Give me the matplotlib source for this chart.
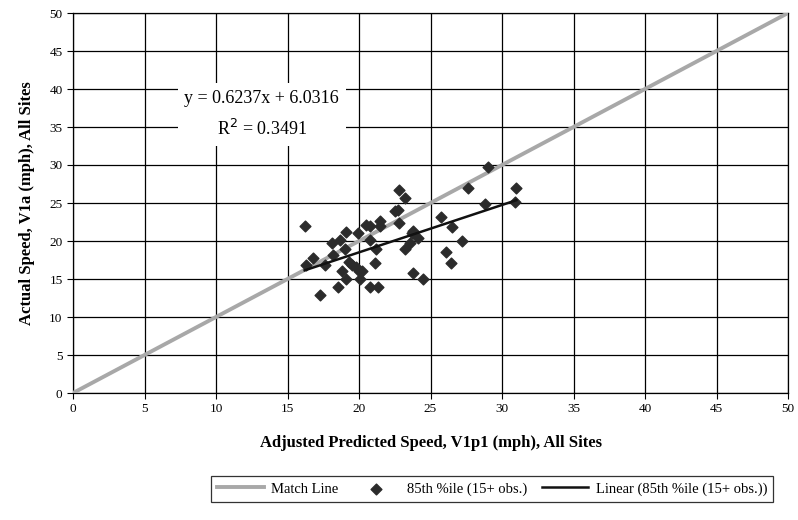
import numpy as np
import matplotlib.pyplot as plt

plt.rcParams['font.family'] = ['Liberation Serif', 'DejaVu Serif']

#85th percentile speeds (predicted, actual)
predSpeed = [16.2, 17.3, 16.8, 16.3, 17.6, 18.1, 18.7, 19.1, 19.0, 18.2,
             18.5, 18.8, 19.1, 19.3, 19.5, 19.8, 20.0, 20.2, 20.1, 19.9,
             20.5, 20.8, 20.8, 21.2, 21.1, 20.8, 21.3, 21.5, 21.5, 22.5,
             22.7, 22.8, 23.2, 22.8, 23.8, 23.7, 24.1, 23.6, 23.2, 23.8,
             24.5, 25.7, 26.5, 27.2, 26.1, 26.4, 27.6, 28.8, 29.0, 30.9, 31.0]
actualSpeed = [22.0, 12.9, 17.8, 16.8, 16.9, 19.7, 20.1, 21.2, 19.0, 18.1,
               14.0, 16.0, 15.0, 17.3, 16.9, 16.6, 16.0, 16.1, 15.0, 21.0,
               22.1, 22.0, 20.1, 19.0, 17.1, 13.9, 14.0, 22.6, 22.0, 23.9,
               24.1, 26.7, 25.6, 22.4, 21.3, 21.0, 20.4, 19.8, 19.0, 15.8,
               15.0, 23.1, 21.8, 20.0, 18.6, 17.1, 27.0, 24.9, 29.7, 25.1, 27.0]

#trendline coefficients as printed on the chart
slope = 0.6237
intercept = 6.0316
rSquared = 0.3491

matchLine = [0, 50]

fig = plt.figure(figsize=(7.98, 5.2), dpi=100)
ax = fig.add_axes([73/798, 1-393/520, 715/798, 380/520])

ax.plot(matchLine, matchLine, color='#a8a8a8', linewidth=2.8, label='Match Line', zorder=3)
ax.scatter(predSpeed, actualSpeed, marker='D', s=30, color='#2b2b2b', label='85th %ile (15+ obs.)', zorder=4)
fitX = np.array([min(predSpeed), max(predSpeed)])
ax.plot(fitX, slope*fitX + intercept, color='#111111', linewidth=1.8,
        label='Linear (85th %ile (15+ obs.))', zorder=5)

ax.set_xlim(0, 50)
ax.set_ylim(0, 50)
ax.set_xticks(range(0, 51, 5))
ax.set_yticks(range(0, 51, 5))
ax.grid(True, color='black', linewidth=0.9, zorder=0)
ax.set_axisbelow(True)
ax.tick_params(labelsize=9.5, direction='out', length=4, width=0.8)
for s in ax.spines.values():
    s.set_linewidth(0.9)

ax.set_xlabel('Adjusted Predicted Speed, V1p1 (mph), All Sites', fontsize=12, fontweight='bold', labelpad=14)
ax.set_ylabel('Actual Speed, V1a (mph), All Sites', fontsize=12, fontweight='bold', labelpad=10)

#equation box covering the grid
ax.text(13.2, 36.6, f'y = {slope}x + {intercept}\nR$^2$ = {rSquared}', fontsize=13, ha='center', va='center',
        linespacing=1.75, zorder=6,
        bbox=dict(facecolor='white', edgecolor='none', pad=5))

leg = fig.legend(loc='center', bbox_to_anchor=(492/798, 1-489/520), ncol=3, fontsize=10.5,
                 frameon=True, fancybox=False, edgecolor='black', handlelength=3.2,
                 columnspacing=1.0, handletextpad=0.5, borderpad=0.4)
leg.get_frame().set_linewidth(0.9)

fig.savefig('out.png', dpi=100)
